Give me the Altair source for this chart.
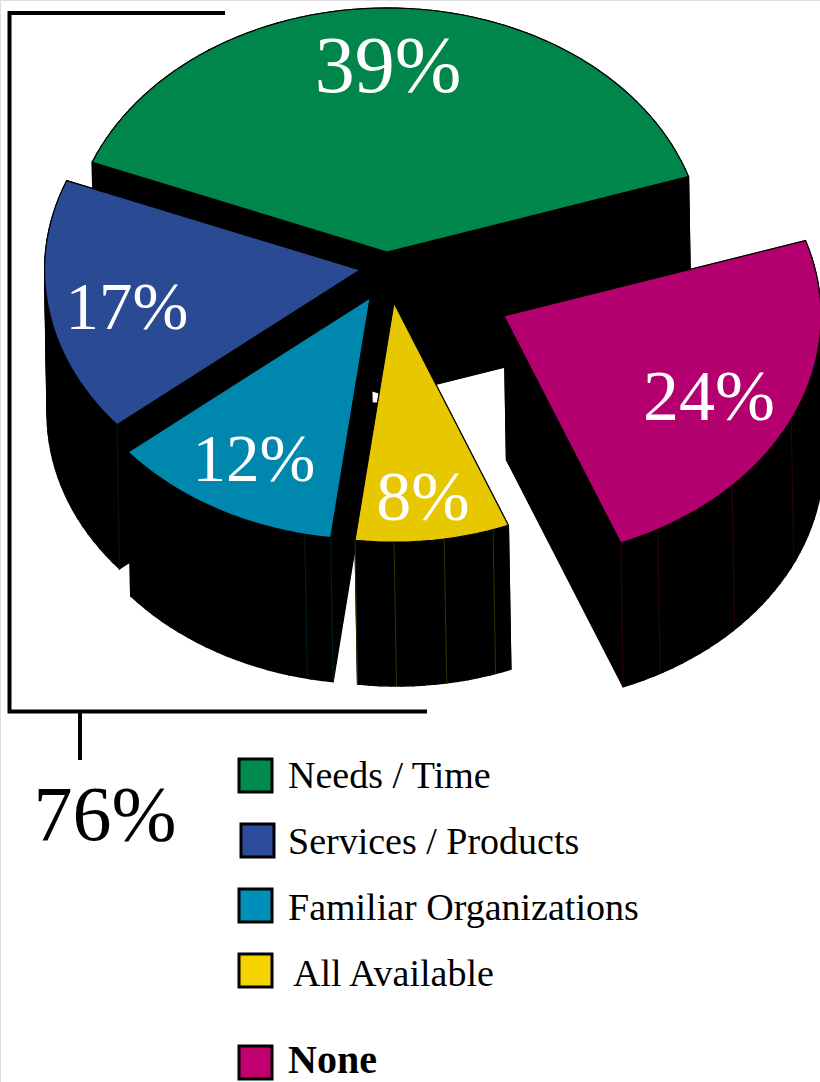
import math
import altair as alt
import pandas as pd

W, H = 820, 1082

# Chart values, clockwise from the top-left edge of the largest slice
categories = ["Needs / Time", "None", "All Available", "Familiar Organizations", "Services / Products"]
shares = [39, 24, 8, 12, 17]
top_colors = ["#00854B", "#B3006E", "#E7C800", "#0087AE", "#2B4A94"]

# Legend, in reading order
legend_names = ["Needs / Time", "Services / Products", "Familiar Organizations", "All Available", "None"]
legend_colors = ["#008A4E", "#2C4B9C", "#008FB8", "#F6D300", "#C0006E"]

# Pie projection and layout
RX, RY = 317, 244
DEPTH, SHEAR = 144, 2.5
START_BEARING = -68.4
apex = {
    "Needs / Time": (387, 252),
    "None": (504, 316),
    "All Available": (394, 303),
    "Familiar Organizations": (370, 298),
    "Services / Products": (360, 270),
}
# Exploded slices are drawn very slightly smaller than the main body
rim_scale = {"All Available": 0.98, "Familiar Organizations": 0.99, "Services / Products": 0.995}
# Seam bearings on the outer wall of each slice
seams = {
    "None": [115, 134, 151, 158.4],
    "All Available": [161.4, 170.7, 180, 187.2],
    "Familiar Organizations": [187.2, 192],
    "Services / Products": [230.4],
}
paint_order = ["Needs / Time", "Services / Products", "None", "Familiar Organizations", "All Available"]


def on_rim(name, bearing):
    cx, cy = apex[name]
    k = rim_scale.get(name, 1.0)
    t = math.radians(bearing)
    return cx + k * RX * math.sin(t), cy - k * RY * math.cos(t)


# Angular span of every slice comes straight from its share
spans = {}
b = START_BEARING
for name, share in zip(categories, shares):
    spans[name] = (b, b + share * 3.6)
    b += share * 3.6

x_enc = alt.X("x:Q", scale=alt.Scale(domain=[0, W], nice=False, zero=False), axis=None)
y_enc = alt.Y("y:Q", scale=alt.Scale(domain=[H, 0], nice=False, zero=False), axis=None)


def polygons(rows, **mark):
    return alt.Chart(pd.DataFrame(rows)).mark_line(interpolate="linear", **mark).encode(
        x=x_enc, y=y_enc, order="i:Q", detail="piece:N"
    )


layers = []
for name in paint_order:
    c = apex[name]
    b0, b1 = spans[name]
    n = max(8, int((b1 - b0) / 2))
    outline = [c] + [on_rim(name, b0 + (b1 - b0) * k / n) for k in range(n + 1)]

    # Extruded wall: one black quad swept down from each outline edge
    wall = []
    closed = outline + [outline[0]]
    for e in range(len(outline)):
        (x0, y0), (x1, y1) = closed[e], closed[e + 1]
        quad = [(x0, y0), (x1, y1), (x1 + SHEAR, y1 + DEPTH), (x0 + SHEAR, y0 + DEPTH), (x0, y0)]
        wall += [{"piece": e, "i": i, "x": px, "y": py} for i, (px, py) in enumerate(quad)]
    layers.append(polygons(wall, fill="#000000", stroke="#000000", strokeWidth=1.3))

    # Black join that closes most of the gap between the two front walls
    if name == "All Available":
        left_rim = on_rim(name, b1)
        t0, t1 = 0.42, 0.58
        a = (c[0] + (left_rim[0] - c[0]) * t0, c[1] + (left_rim[1] - c[1]) * t0)
        d = (c[0] + (left_rim[0] - c[0]) * t1, c[1] + (left_rim[1] - c[1]) * t1)
        inner_x = apex["Familiar Organizations"][0]
        join = [(inner_x, a[1]), a, d, (inner_x, d[1]), (inner_x, a[1])]
        layers.append(polygons(
            [{"piece": 0, "i": i, "x": px, "y": py} for i, (px, py) in enumerate(join)],
            fill="#000000", stroke="#000000", strokeWidth=0.5,
        ))

    # Faint seams on the wall
    color = top_colors[categories.index(name)]
    seam_rows = []
    for s, bearing in enumerate(seams.get(name, [])):
        px, py = on_rim(name, bearing)
        seam_rows += [
            {"piece": s, "i": 0, "x": px, "y": py},
            {"piece": s, "i": 1, "x": px + SHEAR, "y": py + DEPTH},
        ]
    if seam_rows:
        layers.append(polygons(seam_rows, stroke=color, strokeWidth=0.8, opacity=0.3))

    # Coloured top face
    top = [{"piece": 0, "i": i, "x": px, "y": py} for i, (px, py) in enumerate(closed)]
    layers.append(polygons(top, fill=color, stroke="#000000", strokeWidth=1.1, strokeJoin="miter"))

# Bracket that groups the first four answers
bracket = pd.DataFrame({"i": [0, 1, 2, 3], "x": [225, 9.5, 9.5, 427], "y": [13, 13, 711.5, 711.5]})
layers.append(
    alt.Chart(bracket).mark_line(stroke="#000000", strokeWidth=4, strokeJoin="miter", strokeCap="butt")
    .encode(x=x_enc, y=y_enc, order="i:Q")
)
stem = pd.DataFrame({"i": [0, 1], "x": [80, 80], "y": [711.5, 760]})
layers.append(
    alt.Chart(stem).mark_line(stroke="#000000", strokeWidth=4, strokeCap="butt")
    .encode(x=x_enc, y=y_enc, order="i:Q")
)

# Percentage labels on the slices
label_places = {
    "Needs / Time": (388, 92, 80),
    "Services / Products": (127, 329, 67),
    "Familiar Organizations": (254, 481, 67),
    "All Available": (423, 520, 70),
    "None": (709, 420, 72),
}
for name, share in zip(categories, shares):
    lx, ly, size = label_places[name]
    layers.append(
        alt.Chart(pd.DataFrame({"x": [lx], "y": [ly], "t": [f"{share}%"]}))
        .mark_text(font="Liberation Serif", fontSize=size, color="#FFFFFF", align="center", baseline="alphabetic")
        .encode(x=x_enc, y=y_enc, text="t:N")
    )

# Total of the bracketed group
total = sum(s for n, s in zip(categories, shares) if n != "None")
layers.append(
    alt.Chart(pd.DataFrame({"x": [105], "y": [840], "t": [f"{total}%"]}))
    .mark_text(font="Liberation Serif", fontSize=78, color="#000000", align="center", baseline="alphabetic")
    .encode(x=x_enc, y=y_enc, text="t:N")
)

# Hand-placed legend
legend = pd.DataFrame({
    "name": legend_names,
    "swatch": legend_colors,
    "x": [255.5, 257.5, 255.5, 255.5, 255.5],
    "y": [775.5, 840.5, 905.5, 970.5, 1062.5],
    "tx": [288, 288, 288, 293, 288],
    "ty": [788, 854, 920, 986, 1073],
    "weight": ["normal", "normal", "normal", "normal", "bold"],
    "size": [38, 38, 38, 38, 40],
})
layers.append(
    alt.Chart(legend).mark_square(size=1089, stroke="#000000", strokeWidth=3, opacity=1).encode(
        x=x_enc, y=y_enc, fill=alt.Fill("swatch:N", scale=None)
    )
)
for weight, part in legend.groupby("weight"):
    layers.append(
        alt.Chart(part).mark_text(
            font="Liberation Serif", fontSize=int(part["size"].iloc[0]), color="#000000", align="left",
            baseline="alphabetic", fontWeight=weight,
        ).encode(
            x=alt.X("tx:Q", scale=alt.Scale(domain=[0, W], nice=False, zero=False), axis=None),
            y=alt.Y("ty:Q", scale=alt.Scale(domain=[H, 0], nice=False, zero=False), axis=None),
            text="name:N",
        )
    )

chart = (
    alt.layer(*layers)
    .properties(width=W, height=H, padding=0, autosize=alt.AutoSizeParams(type="none"))
    .configure_view(stroke=None)
    .configure(background="#FFFFFF")
)
chart.save("out.html", embed_options={"renderer": "svg", "actions": False})
